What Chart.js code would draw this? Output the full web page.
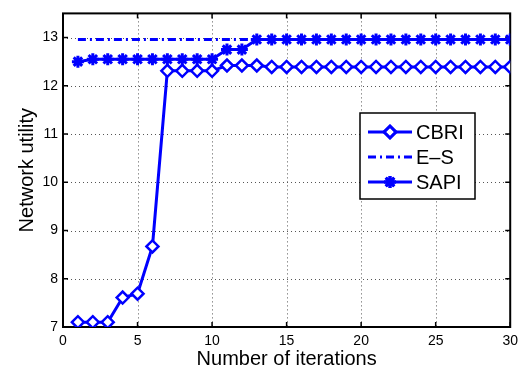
<!DOCTYPE html>
<html lang="en">
<head>
  <meta charset="UTF-8">
  <title>Network utility</title>
  <script src="https://cdn.jsdelivr.net/npm/chart.js"></script>
  <style>
    body { margin: 0; background: #fff; }
    #box { width: 524px; height: 371px; }
  </style>
</head>
<body>
  <div id="box"><canvas id="chart"></canvas></div>

  <script>
    const iterations = [1,2,3,4,5,6,7,8,9,10,11,12,13,14,15,16,17,18,19,20,21,22,23,24,25,26,27,28,29,30];
    const cbri = [7.1, 7.1, 7.1, 7.61, 7.69, 8.67, 12.31, 12.31, 12.31, 12.31,
                  12.42, 12.42, 12.42, 12.39, 12.39, 12.39, 12.39, 12.39, 12.39, 12.39,
                  12.39, 12.39, 12.39, 12.39, 12.39, 12.39, 12.39, 12.39, 12.39, 12.39];
    const es = [12.96, 12.96];
    const esX = [1, 30];
    const sapi = [12.5, 12.55, 12.55, 12.55, 12.55, 12.55, 12.55, 12.55, 12.55, 12.55,
                  12.75, 12.75, 12.96, 12.96, 12.96, 12.96, 12.96, 12.96, 12.96, 12.96,
                  12.96, 12.96, 12.96, 12.96, 12.96, 12.96, 12.96, 12.96, 12.96, 12.96];
    const xTicks = [0, 5, 10, 15, 20, 25, 30];
    const yTicks = [7, 8, 9, 10, 11, 12, 13];

    const blue = "#0000ff";
    const font = "'Liberation Sans', Arial, sans-serif";

    // grid, box and inward ticks, matlab style
    const frame = {
      id: "frame",
      beforeDatasetsDraw(chart) {
        const { ctx, chartArea: a, scales: { x, y } } = chart;
        ctx.save();
        ctx.strokeStyle = "#555";
        ctx.lineWidth = 1;
        ctx.setLineDash([1, 3]);
        xTicks.slice(1, -1).forEach(v => {
          const px = Math.round(x.getPixelForValue(v)) + 0.5;
          ctx.beginPath(); ctx.moveTo(px, a.top); ctx.lineTo(px, a.bottom); ctx.stroke();
        });
        yTicks.slice(1).forEach(v => {
          const py = Math.round(y.getPixelForValue(v)) + 0.5;
          ctx.beginPath(); ctx.moveTo(a.left, py); ctx.lineTo(a.right, py); ctx.stroke();
        });
        ctx.setLineDash([]);
        ctx.strokeStyle = "#000";
        ctx.lineWidth = 1.5;
        xTicks.forEach(v => {
          const px = x.getPixelForValue(v);
          ctx.beginPath(); ctx.moveTo(px, a.bottom); ctx.lineTo(px, a.bottom - 5); ctx.stroke();
          ctx.beginPath(); ctx.moveTo(px, a.top); ctx.lineTo(px, a.top + 5); ctx.stroke();
        });
        yTicks.forEach(v => {
          const py = y.getPixelForValue(v);
          ctx.beginPath(); ctx.moveTo(a.left, py); ctx.lineTo(a.left + 5, py); ctx.stroke();
          ctx.beginPath(); ctx.moveTo(a.right, py); ctx.lineTo(a.right - 5, py); ctx.stroke();
        });
        ctx.lineWidth = 2;
        ctx.strokeRect(a.left, a.top, a.right - a.left, a.bottom - a.top);
        ctx.restore();
      },
      afterDraw(chart) {
        // legend box inside the plot
        const { ctx } = chart;
        const ds = chart.data.datasets;
        const bx = 360, by = 113, bw = 115, bh = 86;
        ctx.save();
        ctx.fillStyle = "#fff";
        ctx.fillRect(bx, by, bw, bh);
        ctx.strokeStyle = "#000";
        ctx.lineWidth = 1.5;
        ctx.strokeRect(bx, by, bw, bh);
        ctx.font = "20px " + font;
        ctx.textBaseline = "middle";
        ds.forEach((d, i) => {
          const cy = by + 19 + i * 25;
          ctx.strokeStyle = blue;
          ctx.lineWidth = d.borderWidth;
          ctx.setLineDash(d.borderDash || []);
          ctx.beginPath(); ctx.moveTo(368, cy); ctx.lineTo(412, cy); ctx.stroke();
          ctx.setLineDash([]);
          if (d.pointStyle && d.pointRadius) {
            ctx.fillStyle = d.pointBackgroundColor;
            Chart.helpers.drawPoint(ctx, {
              pointStyle: d.pointStyle, radius: d.pointRadius, borderWidth: d.pointBorderWidth, rotation: 0
            }, 390, cy);
            ctx.lineWidth = d.pointBorderWidth;
            ctx.stroke();
          }
          ctx.fillStyle = "#000";
          ctx.fillText(d.label, 416, cy + 1);
        });
        ctx.restore();
      }
    };

    new Chart(document.getElementById("chart"), {
      type: "line",
      data: {
        datasets: [
          {
            label: "CBRI",
            data: iterations.map((v, i) => ({ x: v, y: cbri[i] })),
            borderColor: blue,
            borderWidth: 3,
            pointStyle: "rectRot",
            pointRadius: 6,
            pointBorderWidth: 2.5,
            pointBackgroundColor: "#fff",
            pointBorderColor: blue
          },
          {
            label: "E\u2013S",
            data: esX.map((v, i) => ({ x: v, y: es[i] })),
            borderColor: blue,
            borderWidth: 3,
            borderDash: [8, 4, 2, 4],
            pointRadius: 0
          },
          {
            label: "SAPI",
            data: iterations.map((v, i) => ({ x: v, y: sapi[i] })),
            borderColor: blue,
            borderWidth: 3,
            pointStyle: "star",
            pointRadius: 6,
            pointBorderWidth: 3,
            pointBorderColor: blue,
            pointBackgroundColor: blue
          }
        ]
      },
      options: {
        responsive: true,
        maintainAspectRatio: false,
        animation: false,
        layout: { padding: { top: 8, right: 11, left: 0, bottom: 0 } },
        plugins: { legend: { display: false }, tooltip: { enabled: false } },
        scales: {
          x: {
            type: "linear",
            min: 0,
            max: 30,
            afterFit(s) { s.height = 44; },
            afterBuildTicks(s) { s.ticks = xTicks.map(v => ({ value: v })); },
            grid: { display: false, drawTicks: false },
            border: { display: false },
            ticks: { color: "#000", padding: 6, maxRotation: 0, font: { family: font, size: 14 } },
            title: {
              display: true, text: "Number of iterations", color: "#000",
              padding: { top: 0, bottom: 0 }, font: { family: font, size: 20 }
            }
          },
          y: {
            min: 7,
            max: 13.5,
            afterFit(s) { s.width = 63; },
            afterBuildTicks(s) { s.ticks = yTicks.map(v => ({ value: v })); },
            grid: { display: false, drawTicks: false },
            border: { display: false },
            ticks: { color: "#000", padding: 5, font: { family: font, size: 14 } },
            title: {
              display: true, text: "Network utility", color: "#000",
              padding: { top: 15, bottom: 0 }, font: { family: font, size: 20 }
            }
          }
        }
      },
      plugins: [frame]
    });
  </script>
</body>
</html>
